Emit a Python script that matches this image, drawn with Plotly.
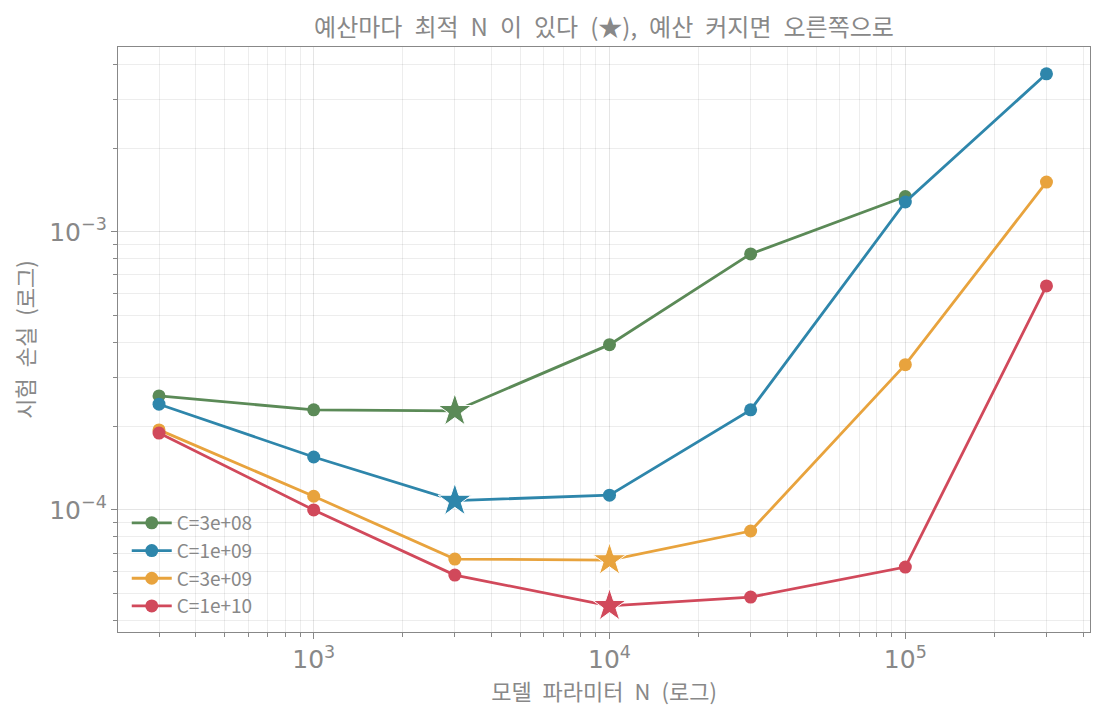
import numpy as np
import plotly.graph_objects as go

N = [300, 1000, 3000, 10000, 30000, 100000, 300000]
budgets = ["C=3e+08", "C=1e+09", "C=3e+09", "C=1e+10"]
loss_3e8 = [2.57e-4, 2.29e-4, 2.27e-4, 3.93e-4, 8.33e-4, 1.34e-3]
loss_1e9 = [2.40e-4, 1.55e-4, 1.08e-4, 1.13e-4, 2.29e-4, 1.28e-3, 3.70e-3]
loss_3e9 = [1.94e-4, 1.12e-4, 6.66e-5, 6.60e-5, 8.40e-5, 3.33e-4, 1.51e-3]
loss_1e10 = [1.89e-4, 1.00e-4, 5.83e-5, 4.52e-5, 4.86e-5, 6.23e-5, 6.39e-4]
colors = ["#5b8a57", "#2e86ab", "#e8a33d", "#d1495b"]

series = [loss_3e8, loss_1e9, loss_3e9, loss_1e10]
gray = "#888888"
font = "Noto Sans CJK KR"
sp = "\u2002"  # wider word gaps, like the reference font

fig = go.Figure()
for name, ys, c in zip(budgets, series, colors):
    xs = N[:len(ys)]
    fig.add_trace(go.Scatter(
        x=xs, y=ys, name=name, mode="lines+markers",
        line=dict(color=c, width=2.8),
        marker=dict(size=13, color=c),
    ))
    # star on the minimum of each budget
    i = int(np.argmin(ys))
    fig.add_trace(go.Scatter(
        x=[xs[i]], y=[ys[i]], mode="markers", showlegend=False,
        marker=dict(symbol="star", size=25, color=c,
                    line=dict(color="white", width=1)),
    ))

axis_common = dict(
    type="log", showline=True, linecolor=gray, linewidth=1.4, mirror=True,
    ticks="outside", ticklen=6, tickcolor=gray, dtick=1,
    exponentformat="power", showexponent="all",
    showgrid=True, gridcolor="rgba(0,0,0,0.10)", gridwidth=1,
    tickfont=dict(size=20, color=gray, family="DejaVu Sans"), zeroline=False,
    minor=dict(dtick="D1", ticks="outside", ticklen=3.5, tickcolor=gray,
               showgrid=True, gridcolor="rgba(0,0,0,0.07)", gridwidth=1),
)

fig.update_layout(
    width=1098, height=714,
    paper_bgcolor="white", plot_bgcolor="white",
    margin=dict(l=108, r=16, t=39, b=90),
    title=dict(text=sp.join("예산마다 최적 N 이 있다 (★), 예산 커지면 오른쪽으로".split(" ")),
               x=0.5, xanchor="center", xref="paper",
               y=0.973, yanchor="middle",
               font=dict(size=24, color=gray, family=font)),
    xaxis=dict(axis_common, range=[np.log10(218), np.log10(421000)],
               title=dict(text=sp.join("모델 파라미터 N (로그)".split(" ")),
                          standoff=6,
                          font=dict(size=22, color=gray, family=font))),
    yaxis=dict(axis_common, range=[np.log10(3.64e-5), np.log10(4.62e-3)],
               title=dict(text=sp.join("시험 손실 (로그)".split(" ")),
                          standoff=14,
                          font=dict(size=22, color=gray, family=font))),
    legend=dict(x=0.009, y=0.012, xanchor="left", yanchor="bottom",
                bgcolor="rgba(0,0,0,0)", borderwidth=0,
                font=dict(size=19, color=gray, family=font),
                itemwidth=40, tracegroupgap=0),
    font=dict(family=font, color=gray),
)

fig.write_html("out.html")
